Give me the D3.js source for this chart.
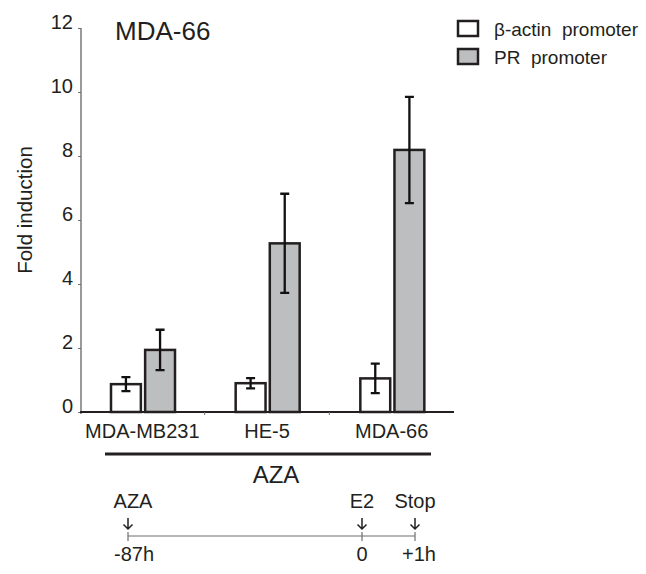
<!DOCTYPE html>
<html><head><meta charset="utf-8">
<script src="https://cdn.jsdelivr.net/npm/d3@7"></script>
<style>
body{margin:0;background:#fff;}
svg text{font-family:"Liberation Sans",Arial,sans-serif;fill:#231f20;}
</style></head>
<body><svg id="c" width="646" height="574"></svg>
<script>
const categories = ["MDA-MB231", "HE-5", "MDA-66"];
const seriesNames = ["β-actin  promoter", "PR  promoter"];
const actinValues = [0.87, 0.90, 1.05];
const actinErrors = [0.22, 0.16, 0.46];
const prValues = [1.94, 5.27, 8.19];
const prErrors = [0.63, 1.55, 1.66];
const yTicks = [0, 2, 4, 6, 8, 10, 12];
const title = "MDA-66";
const yLabel = "Fold induction";
const treatment = "AZA";
const timelineEvents = ["AZA", "E2", "Stop"];
const timelineTimes = [-87, 0, 1];
const timelineLabels = ["-87h", "0", "+1h"];

const svg = d3.select("#c");
const ink = "#231f20";
const grayFill = "#bcbec0";

const y = d3.scaleLinear().domain([0, 12]).range([412, 28]);
const x = d3.scaleBand().domain(categories).range([80, 454]).padding(0);
const inner = d3.scaleBand().domain([0, 1]).range([31, 31 + 64]).paddingInner(8 / 64).paddingOuter(0);

// y axis
const yAxis = d3.axisLeft(y).tickValues(yTicks).tickSize(3).tickPadding(5).tickFormat(d3.format("d"));
const gy = svg.append("g").attr("transform", "translate(81,0)").call(yAxis);
gy.select(".domain").attr("stroke", "#9a9a9a").attr("stroke-width", 2).attr("d", `M0,${y(12)}V${y(0) + 2}`);
gy.selectAll(".tick line").attr("stroke", "#6d6e71").attr("stroke-width", 1);
gy.selectAll(".tick text").style("font-size", "20px").attr("dy", "0").attr("y", 0)
  .attr("fill", "#333");

// x axis baseline
const xAxis = d3.axisBottom(x).tickSize(0).tickPadding(12);
const gx = svg.append("g").attr("transform", `translate(0,${y(0)})`).call(xAxis);
gx.select(".domain").attr("stroke", ink).attr("stroke-width", 2).attr("d", `M80,0H454`);
gx.selectAll(".tick text").style("font-size", "20px").attr("dy", "0.71em").attr("fill", ink);
// group separator ticks
svg.append("g").selectAll("line").data(categories.slice(1)).join("line")
  .attr("x1", d => x(d)).attr("x2", d => x(d))
  .attr("y1", y(0)).attr("y2", y(0) + 3)
  .attr("stroke", "#6d6e71").attr("stroke-width", 1);

// bars
const data = categories.flatMap((c, i) => [
  { c, s: 0, v: actinValues[i], e: actinErrors[i] },
  { c, s: 1, v: prValues[i], e: prErrors[i] }
]);
svg.append("g").selectAll("rect").data(data).join("rect")
  .attr("x", d => x(d.c) + inner(d.s))
  .attr("y", d => y(d.v))
  .attr("width", inner.bandwidth())
  .attr("height", d => y(0) - y(d.v))
  .attr("fill", d => d.s === 0 ? "#fff" : grayFill)
  .attr("stroke", ink).attr("stroke-width", 2.5);

// error bars
const eg = svg.append("g").attr("stroke", "#111").attr("stroke-width", 2.3).attr("fill", "none");
eg.selectAll("path").data(data).join("path")
  .attr("d", d => {
    const cx = x(d.c) + inner(d.s) + inner.bandwidth() / 2;
    const t = y(d.v + d.e), b = y(d.v - d.e);
    return `M${cx - 4.5},${t}H${cx + 4.5}M${cx},${t}V${b}M${cx - 4.5},${b}H${cx + 4.5}`;
  });

// title
svg.append("text").attr("x", 115).attr("y", 40).style("font-size", "26px").text(title);

// y label
svg.append("text").attr("transform", "translate(32,210) rotate(-90)")
  .attr("text-anchor", "middle").style("font-size", "20.5px").attr("fill", "#333").text(yLabel);

// legend
const lg = svg.append("g");
seriesNames.forEach((n, i) => {
  const ly = 21 + i * 28;
  lg.append("rect").attr("x", 458).attr("y", ly).attr("width", 20).attr("height", 15)
    .attr("fill", i === 0 ? "#fff" : grayFill).attr("stroke", ink).attr("stroke-width", 2.5);
  lg.append("text").attr("x", 494).attr("y", ly + 15).style("font-size", "19px")
    .style("white-space", "pre").text(n);
});

// treatment bar
svg.append("line").attr("x1", 105).attr("x2", 431).attr("y1", 454).attr("y2", 454)
  .attr("stroke", ink).attr("stroke-width", 3);
svg.append("text").attr("x", 276).attr("y", 483).attr("text-anchor", "middle")
  .style("font-size", "24px").text(treatment);

// timeline
const tl = d3.scaleLinear().domain([-87, 0, 1]).range([128, 362, 415]);
const tg = svg.append("g");
tg.append("line").attr("x1", tl(-87)).attr("x2", tl(1)).attr("y1", 536).attr("y2", 536)
  .attr("stroke", "#6d6e71").attr("stroke-width", 1.2);
timelineTimes.forEach((t, i) => {
  const px = tl(t);
  tg.append("line").attr("x1", px).attr("x2", px).attr("y1", 532).attr("y2", 541)
    .attr("stroke", "#6d6e71").attr("stroke-width", 1.2);
  tg.append("text").attr("x", px + (i === 0 ? 5 : 0)).attr("y", 508).attr("text-anchor", "middle")
    .style("font-size", "20px").text(timelineEvents[i]);
  tg.append("path").attr("d", `M${px},518V529M${px - 4.5},524.5L${px},529L${px + 4.5},524.5`)
    .attr("stroke", ink).attr("stroke-width", 1.5).attr("fill", "none");
  tg.append("text").attr("x", px + (i === 2 ? 4 : i === 0 ? 6 : 0)).attr("y", 561).attr("text-anchor", "middle")
    .style("font-size", "20px").text(timelineLabels[i]);
});
</script></body></html>
